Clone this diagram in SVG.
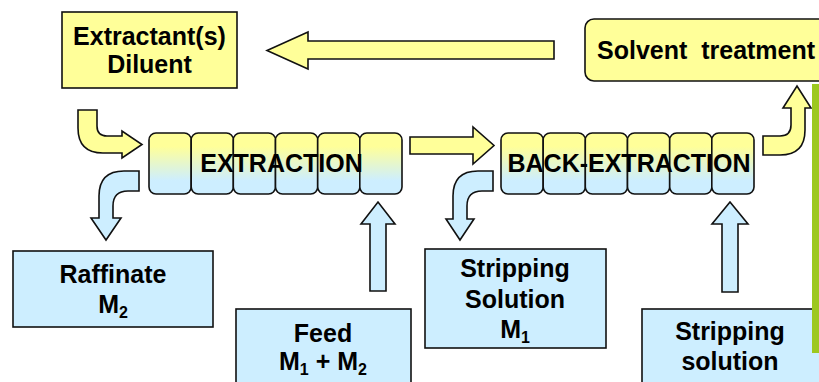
<svg xmlns="http://www.w3.org/2000/svg" width="819" height="382" viewBox="0 0 819 382">
<defs>
<linearGradient id="col" x1="0" y1="0" x2="0" y2="1">
<stop offset="0" stop-color="#ffff99"/>
<stop offset="0.22" stop-color="#ffff99"/>
<stop offset="0.78" stop-color="#cdeeff"/>
<stop offset="1" stop-color="#cdeeff"/>
</linearGradient>
<style>
.y{fill:#ffff99;stroke:#111;stroke-width:1.6}
.b{fill:#cdeeff;stroke:#111;stroke-width:1.6}
.c{fill:url(#col);stroke:#111;stroke-width:1.6}
.t{font-family:"Liberation Sans",Arial,sans-serif;font-weight:bold;font-size:25px;fill:#000;text-anchor:middle}
.s{font-size:16px}
</style>
</defs>
<rect width="819" height="382" fill="#fff"/>

<g id="connectors">
<path class="y" d="M554,41 L308,41 L308,32 L267,50.5 L308,69 L308,59 L554,59 Z"/>
<path class="y" d="M78,110 L97,110 L97,126 Q97,136 107,136 L122,136 L122,131 L142,144.5 L122,158 L122,153 L103,153 Q78,153 78,128 Z"/>
<path class="b" d="M139,171 L139,191 L128,191 Q113,191 113,206 L113,218 L121,218 L106,240 L91,218 L99,218 L99,196 Q99,171 124,171 Z"/>
<path class="y" d="M410,137 L473,137 L473,127 L494,145.5 L473,164 L473,154 L410,154 Z"/>
<path class="b" d="M493,171 L493,191 L482,191 Q467,191 467,206 L467,219 L474,219 L460,240 L446,219 L453,219 L453,196 Q453,171 478,171 Z"/>
<path class="y" d="M763,136 L780,136 Q791,136 791,125 L791,108 L783,108 L797,86 L811,108 L805,108 L805,130 Q805,155 780,155 L763,155 Z"/>
<path class="b" d="M370,291 L370,224 L361,224 L378,202 L395,224 L386,224 L386,291 Z"/>
<path class="b" d="M722,292 L722,224 L712,224 L730,202 L748,224 L738,224 L738,292 Z"/>
</g>

<g id="extractant">
<rect class="y" x="62" y="12" width="175" height="76"/>
<text class="t" x="149.5" y="45">Extractant(s)</text>
<text class="t" x="149.5" y="73">Diluent</text>
</g>

<g id="solvent-treatment">
<rect class="y" x="585" y="19" width="250" height="62" rx="9"/>
<text class="t" x="597" y="59" style="text-anchor:start" xml:space="preserve">Solvent  treatment</text>
</g>

<g id="extraction">
<rect class="c" x="149" y="133" width="42.2" height="61" rx="7"/>
<rect class="c" x="191.2" y="133" width="42.2" height="61" rx="7"/>
<rect class="c" x="233.3" y="133" width="42.2" height="61" rx="7"/>
<rect class="c" x="275.5" y="133" width="42.2" height="61" rx="7"/>
<rect class="c" x="317.7" y="133" width="42.2" height="61" rx="7"/>
<rect class="c" x="359.8" y="133" width="42.2" height="61" rx="7"/>
<text class="t" x="281.5" y="172">EXTRACTION</text>
</g>

<g id="back-extraction">
<rect class="c" x="501" y="133" width="42.2" height="61" rx="7"/>
<rect class="c" x="543.2" y="133" width="42.2" height="61" rx="7"/>
<rect class="c" x="585.3" y="133" width="42.2" height="61" rx="7"/>
<rect class="c" x="627.5" y="133" width="42.2" height="61" rx="7"/>
<rect class="c" x="669.7" y="133" width="42.2" height="61" rx="7"/>
<rect class="c" x="711.8" y="133" width="42.2" height="61" rx="7"/>
<text class="t" x="629" y="172">BACK-EXTRACTION</text>
</g>

<g id="raffinate">
<rect class="b" x="13" y="251" width="200" height="76"/>
<text class="t" x="113" y="283">Raffinate</text>
<text class="t" x="113" y="313">M<tspan class="s" dy="5">2</tspan></text>
</g>

<g id="feed">
<rect class="b" x="236" y="309" width="175" height="90"/>
<text class="t" x="323" y="342">Feed</text>
<text class="t" x="323" y="370">M<tspan class="s" dy="5">1</tspan><tspan dy="-5"> + M</tspan><tspan class="s" dy="5">2</tspan></text>
</g>

<g id="stripping-solution-m1">
<rect class="b" x="425" y="249" width="181" height="99"/>
<text class="t" x="515" y="277">Stripping</text>
<text class="t" x="515" y="308">Solution</text>
<text class="t" x="515" y="338">M<tspan class="s" dy="5">1</tspan></text>
</g>

<g id="stripping-solution">
<rect class="b" x="642" y="309" width="190" height="90"/>
<text class="t" x="730" y="340">Stripping</text>
<text class="t" x="730" y="370">solution</text>
</g>

<rect id="green-bar" x="812" y="84" width="7" height="269" fill="#9dc81f"/>
</svg>
